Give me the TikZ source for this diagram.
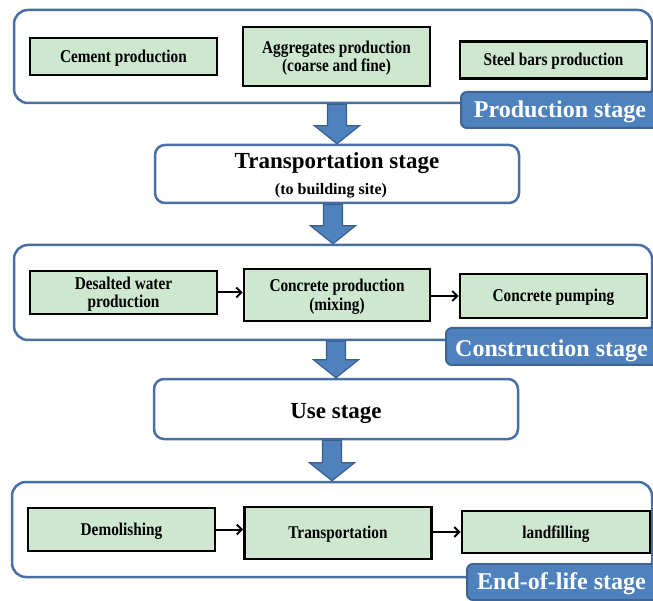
\documentclass[tikz,border=0pt]{standalone}
\usepackage{fontspec}
\setmainfont{Liberation Serif}
\newfontfamily\condfont[FakeStretch=0.85]{Liberation Serif}
\usetikzlibrary{arrows.meta}
\definecolor{cont}{HTML}{4A6FA5}
\definecolor{lblfill}{HTML}{4F81BD}
\definecolor{lblborder}{HTML}{3C6496}
\definecolor{arrowborder}{HTML}{3A5E8C}
\definecolor{greenfill}{HTML}{CDE8CF}
\newcommand\myblockarrow[2]{%
  \coordinate (ba-s) at (#2 |- #1);
  \draw[barrow] ([xshift=-9.5pt]ba-s) -- ([xshift=9.5pt]ba-s) -- ([xshift=9.5pt,yshift=18pt]#2) -- ([xshift=22.5pt,yshift=18pt]#2) -- (#2) -- ([xshift=-22.5pt,yshift=18pt]#2) -- ([xshift=-9.5pt,yshift=18pt]#2) -- cycle;}
\begin{document}
\begin{tikzpicture}[x=1pt,y=-1pt,
  container/.style={draw=cont, line width=2.5pt, rounded corners=14pt, fill=white, inner sep=0pt},
  greenbox/.style={draw=black, line width=2.6pt, fill=greenfill, inner sep=0pt, align=center,
    text depth=0.5pt, font=\condfont\bfseries\fontsize{18}{18.5}\selectfont},
  stagebox/.style={draw=cont, line width=2.5pt, rounded corners=10pt, fill=white, inner sep=0pt},
  stagelbl/.style={draw=lblborder, line width=2pt, fill=lblfill, rounded corners=6pt, inner sep=0pt, anchor=west},
  lbltext/.style={text=white, font=\bfseries\fontsize{24}{26}\selectfont, inner sep=0pt, anchor=base},
  titletext/.style={font=\bfseries\fontsize{23}{26}\selectfont, inner sep=0pt, anchor=base},
  smalltext/.style={font=\bfseries\fontsize{16}{18}\selectfont, inner sep=0pt, anchor=base},
  barrow/.style={fill=lblfill, draw=arrowborder, line width=1.2pt},
  flow/.style={line width=2pt, -{Straight Barb[length=5pt,width=10pt]}}]
\useasboundingbox (0,0) rectangle (653,601);

% Production stage
\node[container, minimum width=638pt, minimum height=93pt] (p1) at (333,56.5) {};
\node[greenbox, minimum width=187pt, minimum height=37pt] (cem) at (123.5,56.5) {Cement production};
\node[greenbox, minimum width=187pt, minimum height=59pt] (agg) at (336.5,56.5) {Aggregates production\\(coarse and fine)};
\node[greenbox, minimum width=187pt, minimum height=37pt] (steel) at (553.5,60) {Steel bars production};
\node[stagelbl, minimum width=205pt, minimum height=36pt] (pl) at (460,110) {};
\node[lbltext] (plt) at (560,118) {Production stage};

% Transportation stage
\node[stagebox, minimum width=364pt, minimum height=58pt] (tr) at (337,174) {};
\node[titletext] (trt) at (337,169) {Transportation stage};
\node[smalltext] (trs) at (331,195) {(to building site)};

% Construction stage
\node[container, minimum width=638pt, minimum height=95pt] (c2) at (333,292.5) {};
\node[greenbox, minimum width=187pt, minimum height=43pt] (dw) at (123.5,292.5) {Desalted water\\production};
\node[greenbox, minimum width=186pt, minimum height=52pt] (cp) at (337,295) {Concrete production\\(mixing)};
\node[greenbox, minimum width=187pt, minimum height=44pt] (pump) at (553.5,296) {Concrete pumping};
\node[stagelbl, minimum width=220pt, minimum height=37pt] (cl) at (445,346.5) {};
\node[lbltext] (clt) at (551.5,357) {Construction stage};

% Use stage
\node[stagebox, minimum width=364pt, minimum height=60pt] (use) at (336,409) {};
\node[titletext] (uset) at (336,418) {Use stage};

% End-of-life stage
\node[container, minimum width=640pt, minimum height=95pt] (c4) at (332,529.5) {};
\node[greenbox, minimum width=187pt, minimum height=43pt] (dem) at (121.5,529.5) {Demolishing};
\node[greenbox, minimum width=187pt, minimum height=52pt] (tra) at (338,533) {Transportation};
\node[greenbox, minimum width=188pt, minimum height=42pt] (land) at (556,532) {landfilling};
\node[stagelbl, minimum width=200pt, minimum height=36pt] (el) at (466,582) {};
\node[lbltext] (elt) at (561.5,589) {End-of-life stage};

% flows inside stages
\draw[flow] (dw.east) -- (dw.east -| cp.west);
\draw[flow] (cp.east |- pump.west) -- (pump.west);
\draw[flow] (dem.east) -- (dem.east -| tra.west);
\draw[flow] (tra.east |- land.west) -- (land.west);

% block arrows between stages
\myblockarrow{p1.south}{tr.north}
\myblockarrow{tr.south}{c2.north}
\myblockarrow{c2.south}{use.north}
\myblockarrow{use.south}{c4.north}
\end{tikzpicture}
\end{document}
